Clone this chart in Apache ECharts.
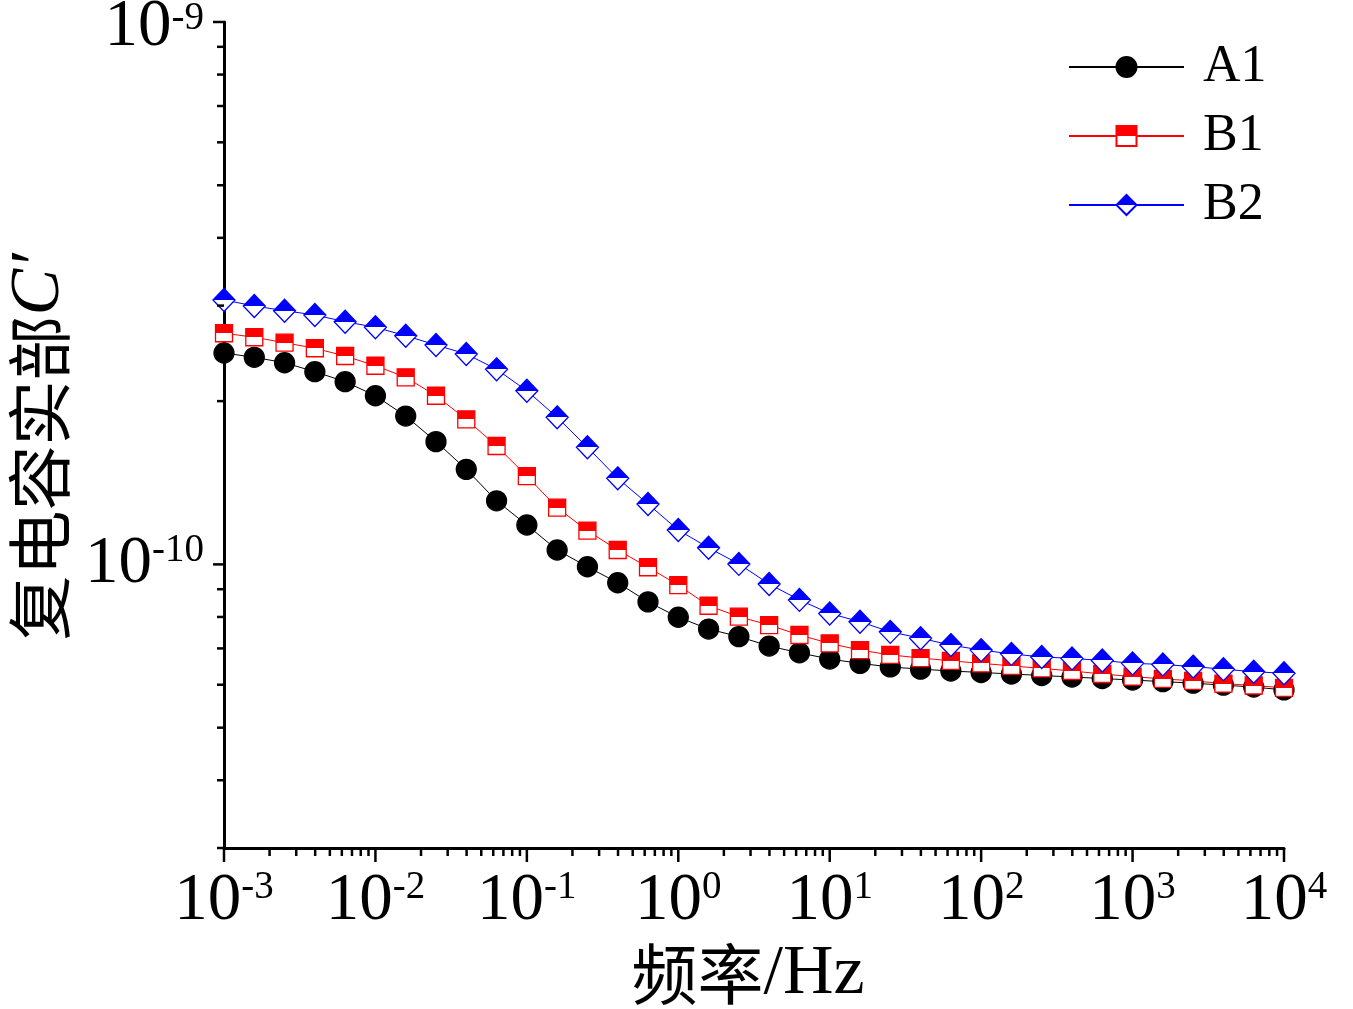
<!DOCTYPE html>
<html>
<head>
<meta charset="utf-8">
<script src="https://cdn.jsdelivr.net/npm/echarts@6/dist/echarts.min.js"></script>
<style>
  html, body { margin: 0; padding: 0; background: #fff; }
  #chart { width: 1353px; height: 1009px; }
</style>
</head>
<body>
<div id="chart"></div>
<script>
// frequency (Hz), 5 points per decade
const freq = [0.001, 0.001585, 0.002512, 0.003981, 0.00631,
    0.01, 0.01585, 0.02512, 0.03981, 0.0631,
    0.1, 0.1585, 0.2512, 0.3981, 0.631,
    1, 1.585, 2.512, 3.981, 6.31,
    10, 15.85, 25.12, 39.81, 63.1,
    100, 158.5, 251.2, 398.1, 631,
    1000, 1585, 2512, 3981, 6310, 10000];

const a1 = [2.453e-10, 2.409e-10, 2.354e-10, 2.266e-10, 2.172e-10,
    2.046e-10, 1.877e-10, 1.684e-10, 1.497e-10, 1.310e-10,
    1.182e-10, 1.063e-10, 0.990e-10, 0.925e-10, 0.853e-10,
    0.799e-10, 0.760e-10, 0.736e-10, 0.707e-10, 0.687e-10,
    0.669e-10, 0.657e-10, 0.647e-10, 0.641e-10, 0.636e-10,
    0.632e-10, 0.628e-10, 0.624e-10, 0.620e-10, 0.616e-10,
    0.612e-10, 0.608e-10, 0.604e-10, 0.599e-10, 0.594e-10, 0.587e-10];

const b1 = [2.668e-10, 2.623e-10, 2.563e-10, 2.503e-10, 2.422e-10,
    2.324e-10, 2.213e-10, 2.046e-10, 1.851e-10, 1.653e-10,
    1.455e-10, 1.272e-10, 1.154e-10, 1.063e-10, 0.988e-10,
    0.916e-10, 0.839e-10, 0.801e-10, 0.773e-10, 0.741e-10,
    0.715e-10, 0.695e-10, 0.681e-10, 0.672e-10, 0.664e-10,
    0.657e-10, 0.650e-10, 0.643e-10, 0.636e-10, 0.628e-10,
    0.621e-10, 0.615e-10, 0.610e-10, 0.603e-10, 0.598e-10, 0.592e-10];

const b2 = [3.073e-10, 2.995e-10, 2.936e-10, 2.883e-10, 2.802e-10,
    2.736e-10, 2.640e-10, 2.538e-10, 2.443e-10, 2.289e-10,
    2.090e-10, 1.867e-10, 1.644e-10, 1.441e-10, 1.292e-10,
    1.157e-10, 1.073e-10, 1.002e-10, 0.920e-10, 0.860e-10,
    0.812e-10, 0.784e-10, 0.751e-10, 0.731e-10, 0.710e-10,
    0.695e-10, 0.684e-10, 0.675e-10, 0.671e-10, 0.665e-10,
    0.657e-10, 0.654e-10, 0.648e-10, 0.641e-10, 0.634e-10, 0.630e-10];

const seriesNames = ['A1', 'B1', 'B2'];

const xMin = 1e-3, xMax = 1e4;
const yMin = 3e-11, yMax = 1e-9;

const xMajorTicks = [1e-3, 1e-2, 1e-1, 1, 10, 100, 1000, 10000];
const yMajorTicks = [1e-10, 1e-9];
const mults = [2, 3, 4, 5, 6, 7, 8, 9];

// minor ticks at 2..9 of each decade
const minorTicks = (lo, hi) => {
    const out = [];
    for (let d = lo; d < hi; d *= 10) {
        mults.forEach(m => {
            const v = +(d * m).toPrecision(6);
            if (v <= hi) out.push(v);
        });
    }
    return out;
};
const xMinorTicks = minorTicks(1e-3, 1e4);
const yMinorTicks = [3e-11, 4e-11, 5e-11, 6e-11, 7e-11, 8e-11, 9e-11].concat(minorTicks(1e-10, 1e-9));

const SERIF = '"Liberation Serif", "Times New Roman", serif';
const CJK = '"Noto Sans CJK SC", sans-serif';

const halfFill = (color) => new echarts.graphic.LinearGradient(0, 0, 0, 1, [
    { offset: 0, color: color },
    { offset: 0.5, color: color },
    { offset: 0.5, color: '#ffffff' },
    { offset: 1, color: '#ffffff' }
]);

const powLabel = (value) => {
    const e = Math.log10(value);
    if (Math.abs(e - Math.round(e)) > 1e-6) return '';
    return '{b|10}{s|' + Math.round(e) + '}';
};

// top label of the y axis sits a little lower than its tick
const yPowLabel = (value) => {
    const e = Math.round(Math.log10(value));
    if (Math.abs(Math.log10(value) - e) > 1e-6) return '';
    if (e === -9) return '{bt|10}{st|' + e + '}';
    return '{b|10}{s|' + e + '}';
};

const labelRich = {
    b: { fontFamily: SERIF, fontSize: 67, lineHeight: 66, color: '#000' },
    s: { fontFamily: SERIF, fontSize: 39, lineHeight: 38, color: '#000', verticalAlign: 'top' },
    bt: { fontFamily: SERIF, fontSize: 67, lineHeight: 66, color: '#000', padding: [10, 0, 0, 0] },
    st: { fontFamily: SERIF, fontSize: 39, lineHeight: 38, color: '#000', verticalAlign: 'top', padding: [10, 0, 0, 0] }
};

const tickSeries = (vals, dir, len) => ({
    type: 'custom',
    silent: true,
    clip: false,
    z: 5,
    data: vals.map(v => dir === 'x' ? [v, yMin] : [xMin, v]),
    renderItem: (params, api) => {
        const p = api.coord([api.value(0), api.value(1)]);
        const shape = dir === 'x'
            ? { x1: p[0], y1: p[1], x2: p[0], y2: p[1] + len }
            : { x1: p[0], y1: p[1], x2: p[0] - len, y2: p[1] };
        return { type: 'line', shape: shape, style: { stroke: '#000', lineWidth: 2.5 } };
    }
});

const makeLine = (name, values, symbol, size, lineColor, fill) => ({
    name: name,
    type: 'line',
    data: freq.map((f, i) => [f, values[i]]),
    symbol: symbol,
    symbolSize: size,
    showSymbol: true,
    lineStyle: { color: lineColor, width: 1 },
    itemStyle: { color: fill, borderColor: lineColor, borderWidth: 1.3 },
    z: 3
});

const option = {
    animation: false,
    backgroundColor: '#fff',
    grid: { left: 224, right: 69, top: 22, bottom: 161, containLabel: false, outerBoundsMode: 'none' },
    legend: {
        data: seriesNames,
        orient: 'vertical',
        left: 1063,
        top: 36,
        itemWidth: 115,
        itemHeight: 25,
        itemGap: 17,
        textStyle: { fontFamily: SERIF, fontSize: 52, lineHeight: 50, color: '#000', padding: [0, 0, 0, 14] }
    },
    xAxis: {
        type: 'log',
        logBase: 10,
        min: xMin,
        max: xMax,
        splitLine: { show: false },
        axisLine: { show: true, lineStyle: { color: '#000', width: 3 } },
        axisTick: { show: false },
        axisLabel: { margin: 20, formatter: powLabel, rich: labelRich },
        name: '{c|频率}{t|/Hz}',
        nameLocation: 'middle',
        nameGap: 90,
        nameTextStyle: {
            padding: [0, 12, 0, 0],
            rich: {
                c: { fontFamily: CJK, fontSize: 66, color: '#000' },
                t: { fontFamily: SERIF, fontSize: 70, color: '#000' }
            }
        }
    },
    yAxis: {
        type: 'log',
        logBase: 10,
        min: yMin,
        max: yMax,
        splitLine: { show: false },
        axisLine: { show: true, lineStyle: { color: '#000', width: 3 } },
        axisTick: { show: false },
        axisLabel: { margin: 20, formatter: yPowLabel, rich: labelRich },
        name: '{c|复电容实部}{i|C′}',
        nameLocation: 'middle',
        nameGap: 146,
        nameTextStyle: {
            padding: [0, 24, 0, 0],
            rich: {
                c: { fontFamily: CJK, fontSize: 65, color: '#000' },
                i: { fontFamily: SERIF, fontStyle: 'italic', fontSize: 70, color: '#000' }
            }
        }
    },
    series: [
        makeLine('A1', a1, 'circle', 20, '#000000', '#000000'),
        makeLine('B1', b1, 'rect', 17, '#ff0000', halfFill('#ff0000')),
        makeLine('B2', b2, 'diamond', [22, 23], '#0000ff', halfFill('#0000ff')),
        tickSeries(xMajorTicks, 'x', 14),
        tickSeries(xMinorTicks, 'x', 8),
        tickSeries(yMajorTicks, 'y', 11),
        tickSeries(yMinorTicks, 'y', 7)
    ]
};

const chart = echarts.init(document.getElementById('chart'));
chart.setOption(option);
</script>
</body>
</html>
